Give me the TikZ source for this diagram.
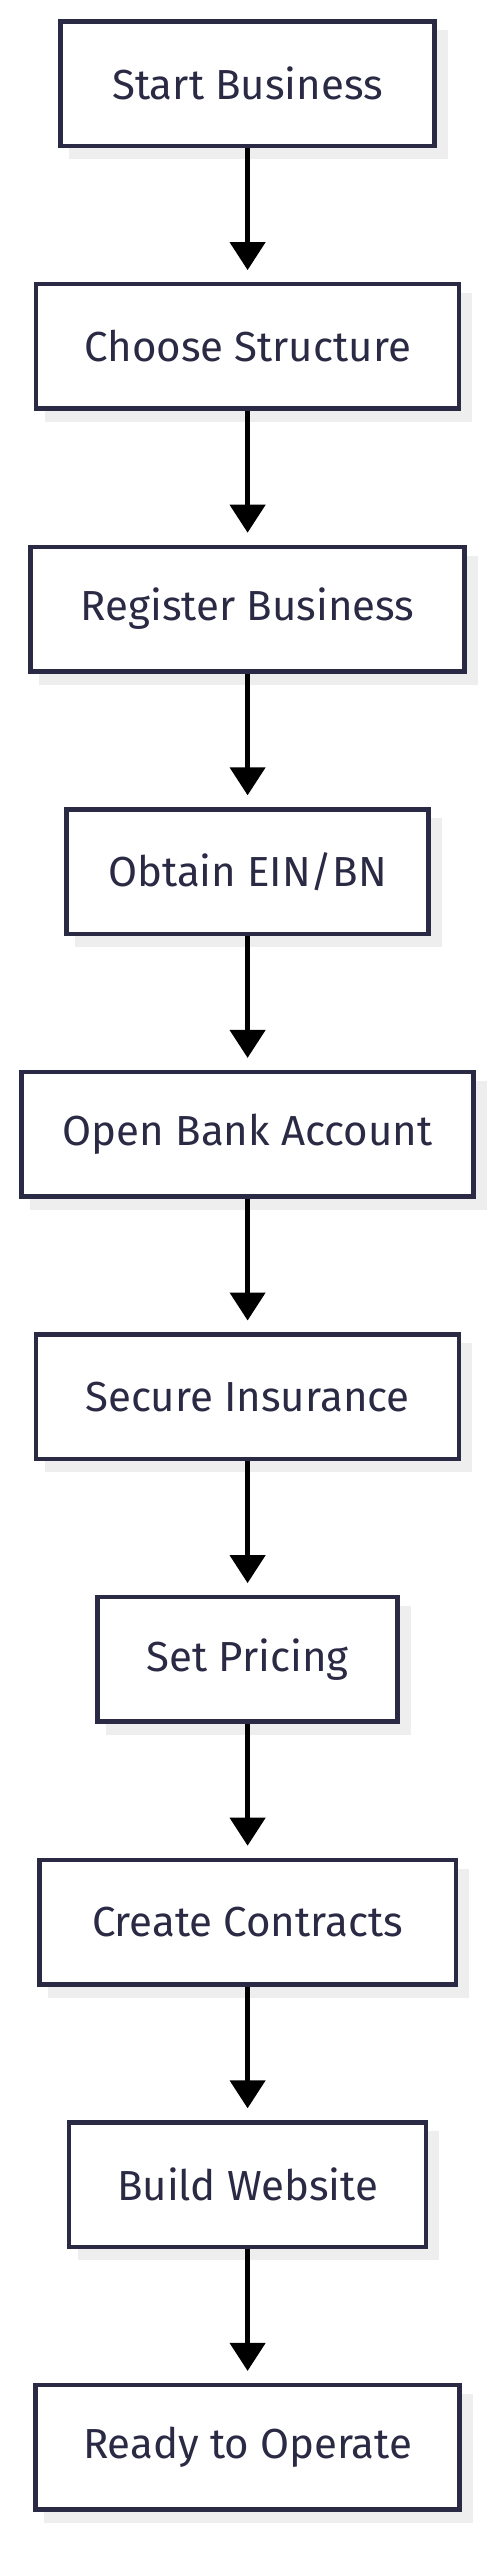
\documentclass[tikz,border=0pt]{standalone}
\usepackage{fontspec}
\setmainfont{Fira Sans}
\usetikzlibrary{arrows.meta}
\definecolor{ink}{HTML}{2B2A45}
\definecolor{shade}{HTML}{EEEEEE}
\begin{document}
\begin{tikzpicture}[x=1pt,y=-1pt,
  stepbox/.style={draw=ink, line width=4.5pt, fill=white, text=ink,
    font=\fontsize{42}{50}\selectfont, minimum height=124.5pt, inner sep=0pt,
    preaction={draw=shade, fill=shade, transform canvas={xshift=11pt,yshift=-11pt}}},
  flow/.style={draw=black, line width=4.5pt, -{Triangle[length=28pt,width=35pt]}, shorten >=11.8pt}]
\useasboundingbox (0,0) rectangle (501,2560);
\node[stepbox, minimum width=373.9pt] (b1) at (247.6,83.8) {Start Business};
\node[stepbox, minimum width=423.2pt] (b2) at (247.6,346.4) {Choose Structure};
\node[stepbox, minimum width=433.9pt] (b3) at (247.6,609.0) {Register Business};
\node[stepbox, minimum width=362.2pt] (b4) at (247.6,871.6) {Obtain EIN/BN};
\node[stepbox, minimum width=452.2pt] (b5) at (247.6,1134.2) {Open Bank Account};
\node[stepbox, minimum width=422.9pt] (b6) at (247.6,1396.8) {Secure Insurance};
\node[stepbox, minimum width=299.8pt] (b7) at (247.6,1659.4) {Set Pricing};
\node[stepbox, minimum width=416.5pt] (b8) at (247.6,1922.0) {Create Contracts};
\node[stepbox, minimum width=357.1pt] (b9) at (247.6,2184.6) {Build Website};
\node[stepbox, minimum width=423.9pt] (b10) at (247.6,2447.2) {Ready to Operate};
\draw[flow] (b1) -- (b2);
\draw[flow] (b2) -- (b3);
\draw[flow] (b3) -- (b4);
\draw[flow] (b4) -- (b5);
\draw[flow] (b5) -- (b6);
\draw[flow] (b6) -- (b7);
\draw[flow] (b7) -- (b8);
\draw[flow] (b8) -- (b9);
\draw[flow] (b9) -- (b10);
\end{tikzpicture}
\end{document}
